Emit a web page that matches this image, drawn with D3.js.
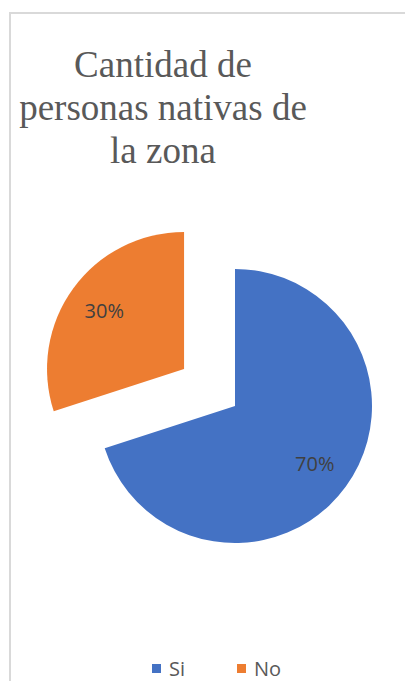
<!DOCTYPE html>
<html>
<head>
<meta charset="utf-8">
<script src="https://cdn.jsdelivr.net/npm/d3@7"></script>
<style>
  html, body { margin: 0; padding: 0; background: #fff; }
  svg { display: block; }
</style>
</head>
<body>
<div id="chart"></div>
<script>
const categories = ["Si", "No"];
const values = [70, 30];
const colors = ["#4472c4", "#ed7d31"];
const titleLines = ["Cantidad de", "personas nativas de", "la zona"];

const W = 405, H = 681;
const svg = d3.select("#chart").append("svg")
    .attr("width", W)
    .attr("height", H);

// chart frame (runs off the right and bottom edges)
svg.append("rect")
    .attr("x", 10).attr("y", 13)
    .attr("width", W + 10).attr("height", H + 10)
    .attr("fill", "#fff")
    .attr("stroke", "#d9d9d9")
    .attr("stroke-width", 2);

// title
svg.append("g")
    .selectAll("text")
    .data(titleLines)
    .enter().append("text")
    .attr("x", 163)
    .attr("y", (d, i) => 77 + i * 43)
    .attr("text-anchor", "middle")
    .attr("font-family", "'Liberation Serif', 'Times New Roman', serif")
    .attr("font-size", 37)
    .attr("fill", "#595959")
    .text(d => d);

// pie
const cx = 235, cy = 406, r = 137, explode = 63;
const data = categories.map((c, i) => ({ cat: c, value: values[i], color: colors[i] }));
const pie = d3.pie().sort(null).value(d => d.value);
const arc = d3.arc().innerRadius(0).outerRadius(r);
const total = d3.sum(values);

const slices = svg.append("g")
    .attr("transform", `translate(${cx},${cy})`)
    .selectAll("g")
    .data(pie(data))
    .enter().append("g")
    .attr("transform", d => {
        if (d.data.cat !== "No") return null;
        const a = (d.startAngle + d.endAngle) / 2;
        return `translate(${Math.sin(a) * explode},${-Math.cos(a) * explode})`;
    });

slices.append("path")
    .attr("d", arc)
    .attr("fill", d => d.data.color);

slices.append("text")
    .attr("transform", d => {
        const a = (d.startAngle + d.endAngle) / 2;
        const k = r * 0.72;
        return `translate(${Math.sin(a) * k},${-Math.cos(a) * k})`;
    })
    .attr("text-anchor", "middle")
    .attr("dy", "0.35em")
    .attr("font-family", "'Open Sans', sans-serif")
    .attr("font-size", 20)
    .attr("fill", "#404040")
    .text(d => Math.round(d.data.value / total * 100) + "%");

// legend
const legendX = [152, 237];
const legend = svg.append("g")
    .selectAll("g")
    .data(data)
    .enter().append("g")
    .attr("transform", (d, i) => `translate(${legendX[i]},664)`);

legend.append("rect")
    .attr("width", 9).attr("height", 9)
    .attr("fill", d => d.color);

legend.append("text")
    .attr("x", 17)
    .attr("y", 12)
    .attr("font-family", "'Open Sans', sans-serif")
    .attr("font-size", 20)
    .attr("fill", "#595959")
    .text(d => d.cat);
</script>
</body>
</html>
